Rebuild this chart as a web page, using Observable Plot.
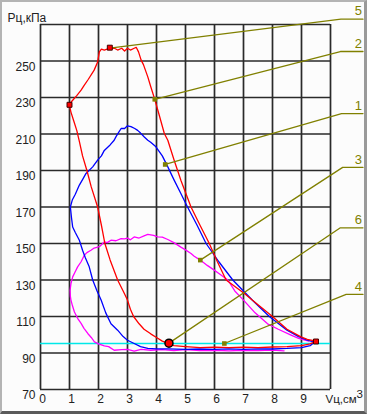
<!DOCTYPE html>
<html><head><meta charset="utf-8">
<script src="https://cdn.jsdelivr.net/npm/d3@7"></script>
<script src="https://cdn.jsdelivr.net/npm/@observablehq/plot@0.6"></script>
<style>
html,body{margin:0;padding:0;background:#fcfcfc;}
#wrap{position:relative;width:367px;height:414px;overflow:hidden;}
#frame{position:absolute;left:0;top:0;width:367px;height:414px;box-sizing:border-box;border:2px solid #b4b4b4;border-bottom:3px solid #5a5a5a;border-right:3px solid #9a9a9a;pointer-events:none;}
svg{display:block;}
</style>
</head><body>
<div id="wrap"><div id="frame"></div></div>
<script>
// axis ticks
const xTicks = [0,1,2,3,4,5,6,7,8,9,10];
const xTickLabels = [0,1,2,3,4,5,6,7,8,9];
const yTicks = [70,90,110,130,150,170,190,210,230,250,270];
const yTickLabels = [70,90,110,130,150,170,190,210,230,250];
const yTitle = "Рц,кПа";
const xTitle = "Vц,см";
const xTitleSup = "3";
const baseLevel = 95.2; // cyan reference line

// loop 5/2/6 (red)
const redLoop = [[9.5,96.5],[9.2,97.5],[8.98,98.8],[8.5,103],[8.0,110],[7.5,116.5],[7.03,122.6],[6.4,130],[6.1,140],[5.82,150],[5.5,160],[5.19,170],[4.84,184.7],[4.6,196],[4.39,206.6],[4.27,210.3],[4.1,220],[3.94,229],[3.8,236],[3.7,241.3],[3.55,248],[3.47,250.5],[3.38,255],[3.3,257.5],[3.23,257],[3.1,256],[3.0,257],[2.9,255.5],[2.8,257],[2.66,256],[2.55,257],[2.39,257],[2.2,256],[2.1,256.5],[2.03,255],[1.97,249.5],[1.85,245],[1.65,240],[1.5,236.5],[1.4,234],[1.25,231],[1.11,228.5],[1.03,227],[1.0,225.5],[1.05,222],[1.15,217],[1.25,212],[1.33,206.6],[1.45,198],[1.6,190],[1.75,181],[1.97,170],[2.1,160],[2.22,150],[2.4,141],[2.66,130],[2.85,124],[3.0,119],[3.1,114],[3.21,110],[3.4,106],[3.57,103],[3.8,100.5],[4.0,98.5],[4.2,96.5],[4.39,95.3],[4.6,94],[5.0,93.5],[5.5,93],[6.0,93.2],[6.5,93],[7.0,93.2],[7.5,93],[8.0,93.3],[8.5,93.5],[9.0,94],[9.3,95],[9.5,96.5]];
// loop 1 (blue)
const blueLoop = [[9.45,96],[9.2,97],[8.9,99],[8.5,102.5],[7.89,110],[7.3,119],[6.63,130],[6.15,140],[5.71,150],[5.4,160],[5.07,170],[4.84,177.4],[4.6,185],[4.39,192],[4.2,198],[3.98,203],[3.8,205.5],[3.7,206.6],[3.58,208.4],[3.45,210.5],[3.35,212],[3.25,213],[3.12,214],[3.0,214.5],[2.9,213],[2.78,213],[2.7,211],[2.6,208.4],[2.54,206.6],[2.4,204],[2.2,201],[2.1,198],[1.97,195.7],[1.8,192],[1.57,188.4],[1.45,185],[1.34,182],[1.2,177],[1.1,174],[1.03,170],[1.07,164],[1.11,159],[1.2,156],[1.34,151.8],[1.45,146.3],[1.55,142],[1.68,137.2],[1.8,130],[1.95,124],[2.09,119],[2.25,112],[2.43,106],[2.66,102.5],[2.85,99],[3.0,97],[3.23,95.2],[3.45,93.5],[3.7,92.5],[4.0,92.3],[4.4,92.3],[5.0,92],[5.5,92.2],[6.0,92],[6.5,92.3],[7.0,92],[7.5,92.3],[8.0,92.2],[8.5,92.5],[9.0,93],[9.3,94],[9.45,96]];
// loop 3 (magenta)
const magentaLoop = [[9.25,96.5],[8.9,98],[8.64,99.8],[8.2,103],[7.83,106],[7.4,112],[7.0,119],[6.7,124],[6.46,130],[6.2,133],[5.99,135.4],[5.75,138],[5.51,140.9],[5.3,143],[5.19,144.5],[5.0,146.5],[4.84,148],[4.6,150.5],[4.39,152.2],[4.2,153.5],[4.04,153.6],[3.9,154.5],[3.7,155],[3.55,154],[3.4,153],[3.23,153.6],[3.1,152],[3.0,153],[2.9,152.5],[2.78,152.7],[2.6,151.5],[2.43,151.8],[2.3,150.5],[2.2,150.9],[2.05,148.5],[1.97,148],[1.85,147.5],[1.74,146.3],[1.6,145],[1.51,143.6],[1.4,140],[1.28,137.2],[1.18,134],[1.11,131.7],[1.05,128],[1.02,124.4],[1.03,121],[1.05,119],[1.1,116],[1.17,112.5],[1.28,109],[1.4,106.2],[1.5,103.5],[1.63,100.7],[1.75,98.5],[1.86,96.1],[2.0,95],[2.2,93.9],[2.35,93.5],[2.54,91.5],[2.8,91.8],[3.0,92],[3.23,91],[3.47,92],[3.8,91.5],[4.2,91.8],[4.6,91.3],[5.0,91.8],[5.5,91.3],[6.0,91.5],[6.5,91.2],[7.0,91.5],[7.5,91.3],[8.0,91.6],[8.4,91.2]];

// leaders: label, point on curve, label level, elbow x
const leaderLabels = ["5","2","1","3","6","4"];
const leaderFromX = [2.39,3.94,4.30,5.51,4.43,6.34];
const leaderFromY = [257,229,193.3,140.9,95.4,95.2];
const leaderLevel = [272.9,255.2,221.2,191.7,158.6,122.1];
const leaderElbowX = [10.36,10.34,10.38,10.42,10.34,10.54];
const leaderEndX = 11.12;

// markers
const redSquares = [[1.0,226],[2.39,257.3],[9.5,96.3]];
const oliveSquares = [[3.94,229],[4.30,193.3],[5.51,140.9],[6.34,95.2]];
const redCircles = [[4.43,95.4]];

const leaderPaths = leaderLabels.flatMap((l,i)=>[
  {l, x: leaderFromX[i], y: leaderFromY[i]},
  {l, x: leaderElbowX[i], y: leaderLevel[i]},
  {l, x: leaderEndX, y: leaderLevel[i]}
]);
const leaderText = leaderLabels.map((l,i)=>({l, x: leaderEndX, y: leaderLevel[i]}));

const font = "'Liberation Sans', Arial, sans-serif";
const olive = "#808000";
const gridColor = "#2a2a2a";

const chart = Plot.plot({
  width: 367, height: 414,
  marginLeft: 40, marginRight: 37, marginTop: 24, marginBottom: 25,
  x: {domain: [0,10], axis: null},
  y: {domain: [70,270], axis: null},
  style: {background: "#fcfcfc", fontFamily: font, fontSize: "12px", color: "#222"},
  marks: [
    Plot.ruleX(xTicks, {x: d=>d, y1: 70, y2: 270, stroke: gridColor, strokeWidth: 1.7}),
    Plot.ruleY(yTicks, {y: d=>d, x1: 0, x2: 10, stroke: gridColor, strokeWidth: 1.7}),
    Plot.ruleY([baseLevel], {y: d=>d, x1: 0, x2: 10, stroke: "#00e8e8", strokeWidth: 1.3}),
    Plot.line(magentaLoop, {x: d=>d[0], y: d=>d[1], stroke: "#ff00ff", strokeWidth: 1.3}),
    Plot.line(blueLoop, {x: d=>d[0], y: d=>d[1], stroke: "#0000ff", strokeWidth: 1.3}),
    Plot.line(redLoop, {x: d=>d[0], y: d=>d[1], stroke: "#ff0000", strokeWidth: 1.3}),
    Plot.line(leaderPaths, {x: "x", y: "y", z: "l", stroke: olive, strokeWidth: 1.3}),
    Plot.text(leaderText, {x: "x", y: "y", text: "l", textAnchor: "end", dx: -1, dy: -8, fill: olive, fontSize: 13}),
    Plot.dot(oliveSquares, {x: d=>d[0], y: d=>d[1], symbol: "square", r: 2.6, fill: olive, stroke: "none"}),
    Plot.dot(redSquares, {x: d=>d[0], y: d=>d[1], symbol: "square", r: 2.8, fill: "#ff0000", stroke: "#400000", strokeWidth: 1}),
    Plot.dot(redCircles, {x: d=>d[0], y: d=>d[1], r: 4, fill: "#ff0000", stroke: "#000", strokeWidth: 1.5}),
    Plot.text(yTickLabels, {x: 0, y: d=>d, text: d=>String(d), textAnchor: "end", dx: -5, dy: 6, fill: "#222"}),
    Plot.text(xTickLabels, {x: d=>d, y: 70, text: d=>String(d), dx: 2, dy: 10, fill: "#222"}),
    Plot.text([yTitle], {x: 0, y: 270, text: d=>d, textAnchor: "start", dx: -33, dy: -6, fill: "#222"}),
    Plot.text([xTitle], {x: 10, y: 70, text: d=>d, textAnchor: "start", dx: -5, dy: 10, fill: "#222", fontSize: 11.5}),
    Plot.text([xTitleSup], {x: 10, y: 70, text: d=>d, textAnchor: "start", dx: 26, dy: 5, fill: "#222", fontSize: 11.5})
  ]
});
document.getElementById("wrap").prepend(chart);
</script>
</body></html>
